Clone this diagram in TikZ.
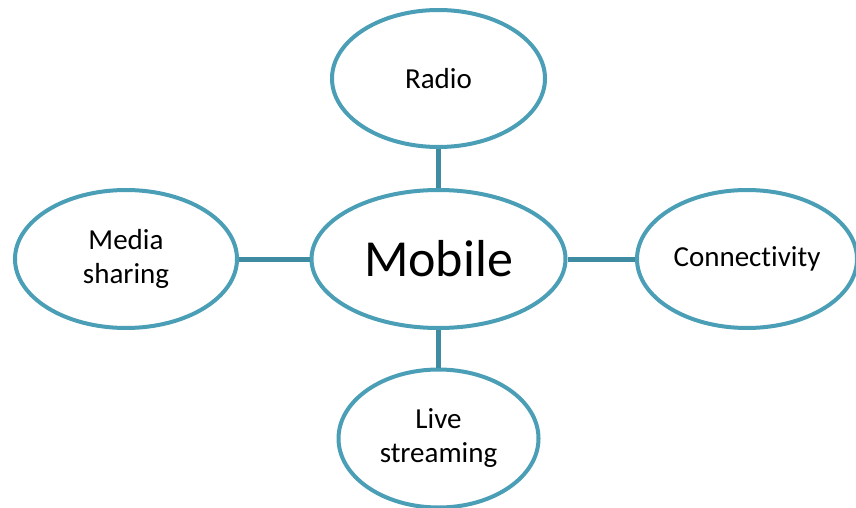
\documentclass[tikz,border=0pt]{standalone}
\usepackage{fontspec}
\setmainfont{Carlito}[Ligatures=NoCommon]
\usetikzlibrary{shapes.geometric}
\definecolor{ringc}{HTML}{4A9EB5}
\definecolor{linkc}{HTML}{3F8CA2}
\begin{document}
\begin{tikzpicture}[x=1pt,y=-1pt,
  bubble/.style={ellipse, draw=ringc, line width=4pt, fill=white, inner sep=0pt,
    minimum height=138pt, align=center, font=\fontsize{29}{34}\selectfont},
  link/.style={draw=linkc, line width=5pt}]
\useasboundingbox (0,0) rectangle (856,508);
\node[bubble, minimum width=254pt, font=\fontsize{52}{60}\selectfont] (mobile) at (438.5,259) {Mobile};
\node[bubble, minimum width=213pt, minimum height=137pt] (radio) at (438.5,78.5) {Radio};
\node[bubble, minimum width=222pt] (media) at (126,259) {Media\\sharing};
\node[bubble, minimum width=220pt] (conn) at (747,259) {Connec\kern0pt tivity};
\node[bubble, minimum width=200pt] (live) at (438.5,438.5) {Live\\streaming};
\draw[link] (radio.south) -- (mobile.north);
\draw[link] (media.east) -- (mobile.west);
\draw[link] (mobile.east) -- (conn.west);
\draw[link] (mobile.south) -- (live.north);
\end{tikzpicture}
\end{document}
